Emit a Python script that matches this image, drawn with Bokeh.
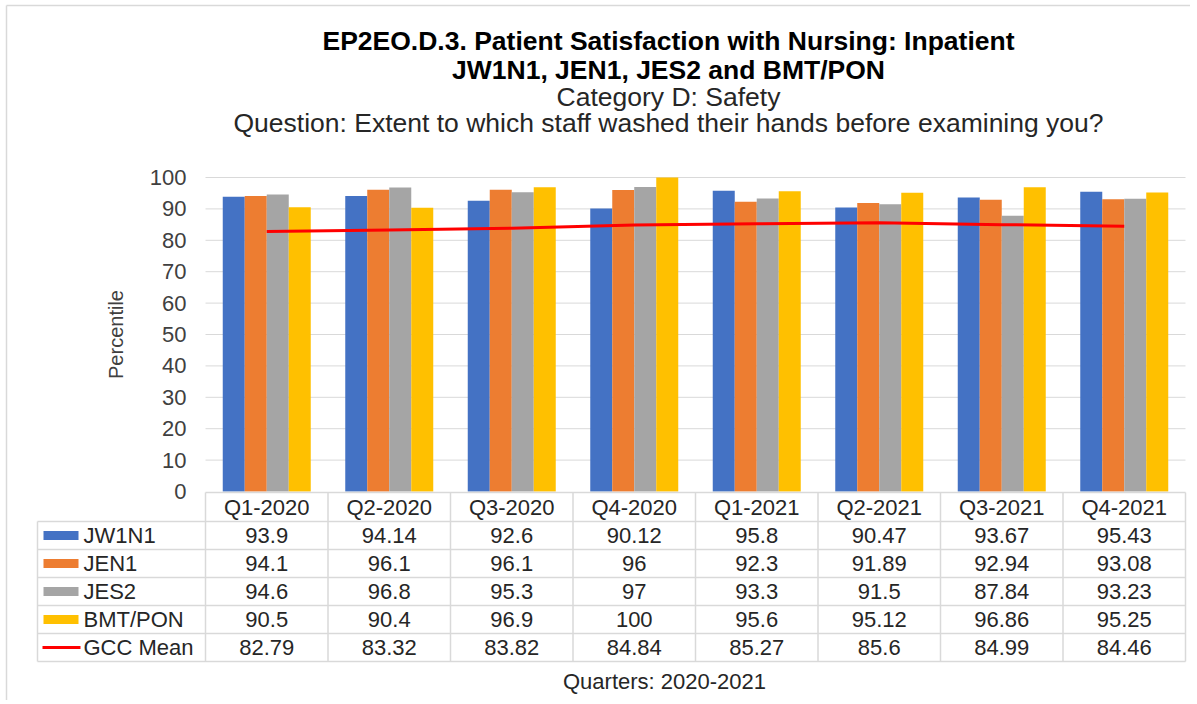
import math
from bokeh.plotting import figure
from bokeh.models import Range1d
from bokeh.core.properties import value
from bokeh.embed import file_html
from bokeh.resources import INLINE

# ---------------- data ----------------
quarters = ["Q1-2020", "Q2-2020", "Q3-2020", "Q4-2020", "Q1-2021", "Q2-2021", "Q3-2021", "Q4-2021"]
series_names = ["JW1N1", "JEN1", "JES2", "BMT/PON"]
jw1n1 = [93.9, 94.14, 92.6, 90.12, 95.8, 90.47, 93.67, 95.43]
jen1 = [94.1, 96.1, 96.1, 96, 92.3, 91.89, 92.94, 93.08]
jes2 = [94.6, 96.8, 95.3, 97, 93.3, 91.5, 87.84, 93.23]
bmt_pon = [90.5, 90.4, 96.9, 100, 95.6, 95.12, 96.86, 95.25]
gcc_name = "GCC Mean"
gcc_mean = [82.79, 83.32, 83.82, 84.84, 85.27, 85.6, 84.99, 84.46]
y_ticks = [0, 10, 20, 30, 40, 50, 60, 70, 80, 90, 100]
title_lines = [
    "EP2EO.D.3. Patient Satisfaction with Nursing: Inpatient",
    "JW1N1, JEN1, JES2 and BMT/PON",
    "Category D: Safety",
    "Question: Extent to which staff washed their hands before examining you?",
]
y_title = "Percentile"
x_title = "Quarters: 2020-2021"

series = [jw1n1, jen1, jes2, bmt_pon]
colors = ["#4472C4", "#ED7D31", "#A5A5A5", "#FFC000"]
line_color = "#FF0000"

# ---------------- layout (page pixels -> data units) ----------------
W, H = 1190, 700
PAGE = 0
COL_PX = 122.5          # width of one category column
X0_PX = 205             # left edge of the plot area
Y0_PX = 491             # baseline (value 0)
UNIT_PX = 3.14          # pixels per value unit


def px_x(px):
    return (px - X0_PX) / COL_PX


def px_y(py):
    return (Y0_PX - py) / UNIT_PX


FONT = value("Liberation Sans")
n = len(quarters)

p = figure(width=W, height=H, output_backend="svg", toolbar_location=None,
           x_range=Range1d(px_x(PAGE), px_x(PAGE + W)),
           y_range=Range1d(px_y(PAGE + H), px_y(PAGE)),
           x_axis_location=None, y_axis_location=None,
           min_border=0, outline_line_color=None)
p.grid.visible = False
p.background_fill_color = "white"
p.border_fill_color = "white"

# outer chart border (top & left)
p.segment(x0=[px_x(6), px_x(6)], y0=[px_y(5), px_y(5)],
          x1=[px_x(PAGE + W), px_x(6)], y1=[px_y(5), px_y(PAGE + H)],
          line_color="#D9D9D9", line_width=1.5)

# gridlines
grid_vals = [t for t in y_ticks if t > 0]
p.segment(x0=[0] * len(grid_vals), x1=[n] * len(grid_vals), y0=grid_vals, y1=grid_vals,
          line_color="#D9D9D9", line_width=1)

# bars
bw = 22 / COL_PX
for k, (vals, col) in enumerate(zip(series, colors)):
    xs = [i + 0.5 + (k - 1.5) * bw for i in range(n)]
    p.vbar(x=xs, top=vals, bottom=0, width=bw, fill_color=col, line_color=None)

# mean line
p.line(x=[i + 0.5 for i in range(n)], y=gcc_mean, line_color=line_color, line_width=3)

# y tick labels
p.text(x=[px_x(186)] * len(y_ticks), y=y_ticks, text=[str(t) for t in y_ticks],
       text_font=FONT, text_font_size="22px", text_align="right", text_baseline="middle",
       text_color="#404040")

# y title
p.text(x=[px_x(115)], y=[50], text=[y_title], angle=math.pi / 2, text_font=FONT,
       text_font_size="20px", text_align="center", text_baseline="middle", text_color="#404040")

# titles
title_mid = [40, 69, 96.5, 122.5]
for i, (t, m) in enumerate(zip(title_lines, title_mid)):
    p.text(x=[px_x(668)], y=[px_y(m)], text=[t], text_font=FONT, text_font_size="26.5px",
           text_font_style="bold" if i < 2 else "normal", text_align="center",
           text_baseline="middle", text_color="#000000" if i < 2 else "#262626")

# x title
p.text(x=[px_x(664)], y=[px_y(681)], text=[x_title], text_font=FONT, text_font_size="22px",
       text_align="center", text_baseline="middle", text_color="#262626")

# ---------------- data table ----------------
TOP = 492
HEAD_H = 29
ROW_H = 28
LEFT = 37
row_tops = [TOP + HEAD_H + r * ROW_H for r in range(5)]
bottom = row_tops[-1] + ROW_H
tbl_color = "#D9D9D9"

# horizontal lines
hx0 = [0] + [px_x(LEFT)] * 6
hy = [px_y(TOP)] + [px_y(t) for t in row_tops] + [px_y(bottom)]
p.segment(x0=hx0, x1=[n] * 7, y0=hy, y1=hy, line_color=tbl_color, line_width=1.5)
# vertical lines
vx = list(range(n + 1)) + [px_x(LEFT)]
vy0 = [px_y(TOP)] * (n + 1) + [px_y(row_tops[0])]
p.segment(x0=vx, x1=vx, y0=vy0, y1=[px_y(bottom)] * (n + 2), line_color=tbl_color, line_width=1.5)

# header cells
p.text(x=[i + 0.5 for i in range(n)], y=[px_y(TOP + HEAD_H / 2)] * n, text=quarters,
       text_font=FONT, text_font_size="22px", text_align="center", text_baseline="middle",
       text_color="#262626")

# rows
all_rows = series + [gcc_mean]
all_names = series_names + [gcc_name]
for r, (vals, name) in enumerate(zip(all_rows, all_names)):
    yc = px_y(row_tops[r] + ROW_H / 2)
    p.text(x=[i + 0.5 for i in range(n)], y=[yc] * n, text=[f"{v:g}" for v in vals],
           text_font=FONT, text_font_size="22px", text_align="center", text_baseline="middle",
           text_color="#262626")
    p.text(x=[px_x(83)], y=[yc], text=[name], text_font=FONT, text_font_size="22px",
           text_align="left", text_baseline="middle", text_color="#262626")
    if r < 4:
        p.quad(left=[px_x(43)], right=[px_x(78)], bottom=[px_y(row_tops[r] + ROW_H / 2 + 4.5)],
               top=[px_y(row_tops[r] + ROW_H / 2 - 4.5)], fill_color=colors[r], line_color=None)
    else:
        p.segment(x0=[px_x(42)], x1=[px_x(80)], y0=[yc], y1=[yc], line_color=line_color, line_width=3)

open("out.html", "w").write(file_html(p, INLINE))
